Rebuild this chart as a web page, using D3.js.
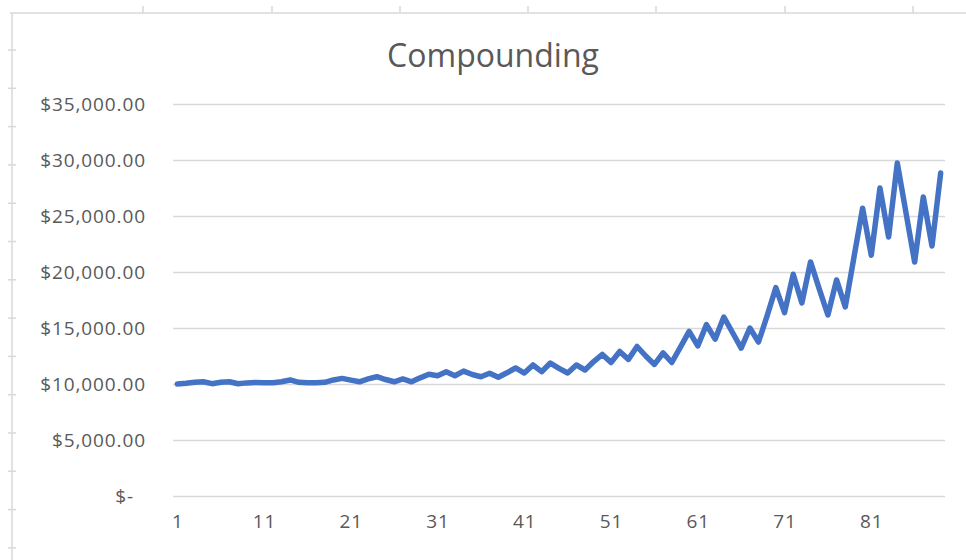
<!DOCTYPE html>
<html>
<head>
<meta charset="utf-8">
<script src="https://cdn.jsdelivr.net/npm/d3@7"></script>
<style>
  body { margin: 0; background: #ffffff; }
  #chart { width: 966px; height: 560px; }
  .axis-text { font-family: "Open Sans", sans-serif; font-size: 19px; fill: #595959; letter-spacing: 0.9px; }
  .title { font-family: "Open Sans", sans-serif; font-size: 32px; fill: #595959; }
</style>
</head>
<body>
<div id="chart"></div>
<script>
// period numbers along the bottom
const periods = d3.range(1, 90);
const xTickLabels = [1, 11, 21, 31, 41, 51, 61, 71, 81];
const yTicks = [0, 5000, 10000, 15000, 20000, 25000, 30000, 35000];

// balance per period
const balance = [
  10000, 10060, 10150, 10200, 10030, 10150, 10200, 10020, 10100, 10130,
  10120, 10120, 10200, 10360, 10150, 10120, 10120, 10150, 10360, 10500,
  10350, 10200, 10450, 10650, 10400, 10200, 10450, 10200, 10550, 10870,
  10740, 11100, 10740, 11150, 10850, 10650, 10960, 10600, 11000, 11430,
  10980, 11700, 11100, 11870, 11400, 10980, 11700, 11250, 12000, 12640,
  11920, 12900, 12200, 13350, 12500, 11750, 12770, 11920, 13300, 14700,
  13400, 15300, 14000, 15980, 14600, 13210, 15000, 13750, 16100, 18600,
  16370, 19800, 17240, 20900, 18500, 16160, 19290, 16880, 21300, 25700,
  21500, 27500, 23130, 29730, 25300, 20890, 26700, 22320, 28840
];

const titleText = "Compounding";

const width = 966, height = 560;
const margin = {top: 104, right: 21, bottom: 64, left: 173};
const plotW = width - margin.left - margin.right;
const plotH = height - margin.top - margin.bottom;

const svg = d3.select("#chart")
  .append("svg")
    .attr("width", width)
    .attr("height", height);

// sheet frame behind the chart
const frame = svg.append("g").attr("stroke", "#d9d9d9").attr("stroke-width", 1.5);
frame.append("line").attr("x1", 10).attr("x2", width).attr("y1", 13).attr("y2", 13);
frame.append("line").attr("x1", 12).attr("x2", 12).attr("y1", 13).attr("y2", height);
[143, 272, 400, 528, 656, 785, 913].forEach(x => {
  frame.append("line").attr("x1", x).attr("x2", x).attr("y1", 6).attr("y2", 13);
});
d3.range(50, height, 38.3).forEach(y => {
  frame.append("line").attr("x1", 8).attr("x2", 16).attr("y1", y).attr("y2", y);
});

const g = svg.append("g")
  .attr("transform", "translate(" + margin.left + "," + margin.top + ")");

// scales
const xScale = d3.scalePoint()
  .domain(periods)
  .range([0, plotW])
  .padding(0.5);

const yScale = d3.scaleLinear()
  .domain([0, 35000])
  .range([plotH, 0]);

// horizontal grid
g.append("g")
  .call(d3.axisLeft(yScale).tickValues(yTicks).tickSize(-plotW).tickFormat(""))
  .call(s => s.select(".domain").remove())
  .selectAll("line")
    .attr("stroke", "#d9d9d9")
    .attr("stroke-width", 1.5);

// y labels
const yFmt = d3.format(",.2f");
const yAxis = g.append("g")
  .call(d3.axisLeft(yScale).tickValues(yTicks).tickSize(0).tickPadding(27)
    .tickFormat(d => d === 0 ? "$-" : "$" + yFmt(d)));
yAxis.select(".domain").remove();
yAxis.selectAll("text")
  .attr("class", "axis-text")
  .attr("font-family", null).attr("font-size", null)
  .attr("dx", d => d === 0 ? -12 : 0);

// x labels
const xAxis = g.append("g")
  .attr("transform", "translate(0," + plotH + ")")
  .call(d3.axisBottom(xScale).tickValues(xTickLabels).tickSize(0).tickPadding(19));
xAxis.select(".domain").remove();
xAxis.selectAll("text")
  .attr("class", "axis-text")
  .attr("font-family", null).attr("font-size", null);

// the line
const line = d3.line()
  .x((d, i) => xScale(periods[i]))
  .y(d => yScale(d));

g.append("path")
  .datum(balance)
  .attr("fill", "none")
  .attr("stroke", "#4472c4")
  .attr("stroke-width", 5.5)
  .attr("stroke-linejoin", "round")
  .attr("stroke-linecap", "round")
  .attr("d", line);

// title
svg.append("text")
  .attr("class", "title")
  .attr("x", 493)
  .attr("y", 67)
  .attr("text-anchor", "middle")
  .text(titleText);
</script>
</body>
</html>
